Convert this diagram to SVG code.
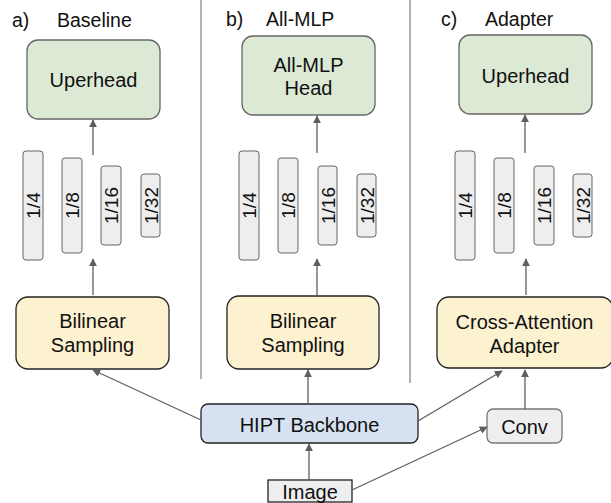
<svg xmlns="http://www.w3.org/2000/svg" width="611" height="503" viewBox="0 0 611 503">
<style>
text{font-family:"Liberation Sans",Arial,sans-serif;fill:#111;}
.t{font-size:20px;text-anchor:middle;}
.lbl{font-size:19.5px;}
.head{fill:#dce9d5;stroke:#666;stroke-width:1.3;}
.bar{fill:#eeeeee;stroke:#666;stroke-width:1;}
.samp{fill:#fdf2d0;stroke:#222;stroke-width:1.3;}
.bb{fill:#d6e2f2;stroke:#222;stroke-width:1.3;}
.conv{fill:#eeeeee;stroke:#777;stroke-width:1.3;}
.img{fill:#eeeeee;stroke:#222;stroke-width:1.3;}
.bt{font-size:19px;text-anchor:middle;}
.sep{stroke:#999;stroke-width:1.5;}
.arr{stroke:#5f5f5f;stroke-width:1.3;fill:none;marker-end:url(#ah);}
</style>
<defs>
<marker id="ah" viewBox="0 0 10 10" refX="9" refY="5" markerWidth="8" markerHeight="8" markerUnits="userSpaceOnUse" orient="auto">
<path d="M0,0 L10,5 L0,10 z" fill="#5f5f5f"/>
</marker>
</defs>
<g id="separators">
<line class="sep" x1="201" y1="0" x2="201" y2="379"/>
<line class="sep" x1="410" y1="0" x2="410" y2="383"/>
</g>
<g id="labels">
<text class="lbl" x="12" y="27">a)</text><text class="lbl" x="57" y="27">Baseline</text>
<text class="lbl" x="226" y="26">b)</text><text class="lbl" x="266" y="26">All-MLP</text>
<text class="lbl" x="441" y="26">c)</text><text class="lbl" x="485" y="26">Adapter</text>
</g>
<g id="headA"><rect class="head" x="27" y="40" width="133" height="79" rx="11"/><text class="t" x="93.5" y="87">Uperhead</text></g>
<g id="headB"><rect class="head" x="242" y="36" width="133" height="79" rx="11"/><text class="t" x="308.5" y="72">All-MLP</text><text class="t" x="308.5" y="95">Head</text></g>
<g id="headC"><rect class="head" x="459" y="35" width="133" height="79" rx="11"/><text class="t" x="525.5" y="83">Uperhead</text></g>
<g id="barsA">
<rect class="bar" x="23" y="151" width="20" height="109" rx="3"/><text class="bt" transform="translate(40,205.5) rotate(-90)">1/4</text>
<rect class="bar" x="62" y="158" width="20" height="95" rx="3"/><text class="bt" transform="translate(79,205.5) rotate(-90)">1/8</text>
<rect class="bar" x="101" y="166" width="20" height="79" rx="3"/><text class="bt" transform="translate(118,205.5) rotate(-90)">1/16</text>
<rect class="bar" x="141" y="174" width="19" height="63" rx="3"/><text class="bt" transform="translate(157.5,205.5) rotate(-90)">1/32</text>
</g>
<g id="barsB">
<rect class="bar" x="239" y="151" width="20" height="109" rx="3"/><text class="bt" transform="translate(256,205.5) rotate(-90)">1/4</text>
<rect class="bar" x="278" y="158" width="20" height="95" rx="3"/><text class="bt" transform="translate(295,205.5) rotate(-90)">1/8</text>
<rect class="bar" x="318" y="166" width="19" height="79" rx="3"/><text class="bt" transform="translate(334.5,205.5) rotate(-90)">1/16</text>
<rect class="bar" x="357" y="174" width="19" height="63" rx="3"/><text class="bt" transform="translate(373.5,205.5) rotate(-90)">1/32</text>
</g>
<g id="barsC">
<rect class="bar" x="455" y="151" width="20" height="109" rx="3"/><text class="bt" transform="translate(472,205.5) rotate(-90)">1/4</text>
<rect class="bar" x="494" y="158" width="20" height="95" rx="3"/><text class="bt" transform="translate(511,205.5) rotate(-90)">1/8</text>
<rect class="bar" x="534" y="166" width="20" height="79" rx="3"/><text class="bt" transform="translate(551,205.5) rotate(-90)">1/16</text>
<rect class="bar" x="573" y="174" width="19" height="63" rx="3"/><text class="bt" transform="translate(589.5,205.5) rotate(-90)">1/32</text>
</g>
<g id="sampA"><rect class="samp" x="16" y="297" width="153" height="72" rx="12"/><text class="t" x="92.5" y="328">Bilinear</text><text class="t" x="92.5" y="352">Sampling</text></g>
<g id="sampB"><rect class="samp" x="227" y="296" width="152" height="73" rx="12"/><text class="t" x="303" y="328">Bilinear</text><text class="t" x="303" y="352">Sampling</text></g>
<g id="adapter"><rect class="samp" x="437" y="297" width="176" height="71" rx="12"/><text class="t" x="524.5" y="329">Cross-Attention</text><text class="t" x="524.5" y="353">Adapter</text></g>
<g id="backbone"><rect class="bb" x="201" y="404" width="217" height="39" rx="7"/><text class="t" x="309.5" y="432">HIPT Backbone</text></g>
<g id="conv"><rect class="conv" x="487" y="409" width="75" height="34" rx="6"/><text class="t" x="524.5" y="434">Conv</text></g>
<g id="image"><rect class="img" x="268" y="480" width="84" height="22"/><text class="t" x="310" y="499">Image</text></g>
<g id="connectors">
<line class="arr" x1="93" y1="155" x2="93" y2="120"/>
<line class="arr" x1="317" y1="153" x2="317" y2="116"/>
<line class="arr" x1="525" y1="153" x2="525" y2="115"/>
<line class="arr" x1="93" y1="295" x2="93" y2="259"/>
<line class="arr" x1="317" y1="295" x2="317" y2="259"/>
<line class="arr" x1="526" y1="295" x2="526" y2="259"/>
<line class="arr" x1="201" y1="420" x2="93" y2="370"/>
<line class="arr" x1="308" y1="404" x2="308" y2="370"/>
<line class="arr" x1="418" y1="421" x2="502" y2="371"/>
<line class="arr" x1="525" y1="409" x2="525" y2="370"/>
<line class="arr" x1="309" y1="480" x2="309" y2="444"/>
<line class="arr" x1="352" y1="490" x2="487" y2="427"/>
</g>
</svg>
